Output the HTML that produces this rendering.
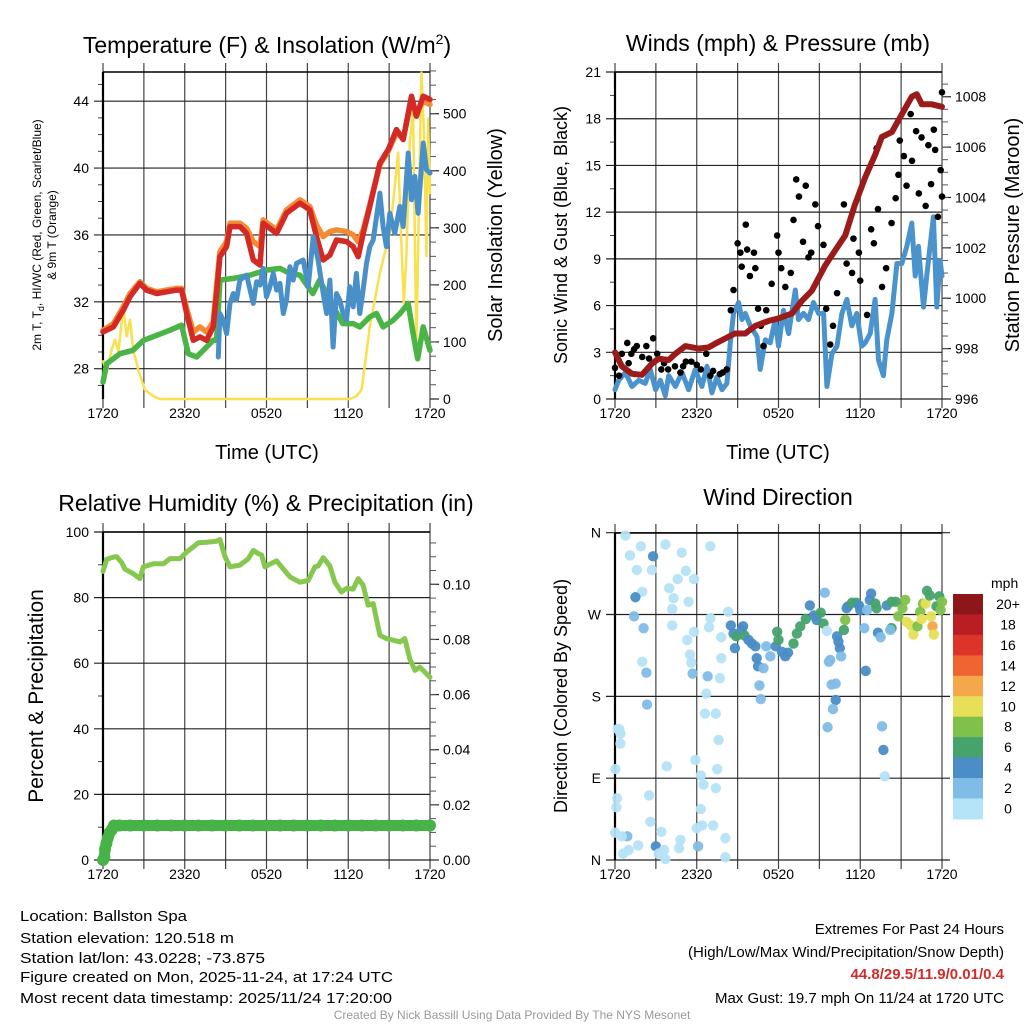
<!DOCTYPE html>
<html><head><meta charset="utf-8"><style>
html,body{margin:0;padding:0;background:#fff;}
svg{display:block;font-family:"Liberation Sans",Arial,sans-serif;}
</style></head><body>
<svg id="chart" width="1024" height="1024" viewBox="0 0 1024 1024" xmlns="http://www.w3.org/2000/svg">
<rect width="1024" height="1024" fill="#fff"/>
<text x="267" y="53" font-size="23" text-anchor="middle">Temperature (F) &amp; Insolation (W/m<tspan font-size="14" dy="-9">2</tspan><tspan dy="9">)</tspan></text>
<text x="778" y="51" font-size="23" text-anchor="middle">Winds (mph) &amp; Pressure (mb)</text>
<text x="266" y="511" font-size="23" text-anchor="middle">Relative Humidity (%) &amp; Precipitation (in)</text>
<text x="778" y="505" font-size="23" text-anchor="middle">Wind Direction</text>

<text transform="translate(41,235) rotate(-90)" font-size="12" text-anchor="middle">2m T, T<tspan font-size="9" dy="3">d</tspan><tspan dy="-3">, HI/WC (Red, Green, Scarlet/Blue)</tspan></text>
<text transform="translate(56,235) rotate(-90)" font-size="12" text-anchor="middle">&amp; 9m T (Orange)</text>
<text transform="translate(502,235) rotate(-90)" font-size="20" text-anchor="middle">Solar Insolation (Yellow)</text>
<text transform="translate(567,235) rotate(-90)" font-size="18" text-anchor="middle">Sonic Wind &amp; Gust (Blue, Black)</text>
<text transform="translate(1019,235) rotate(-90)" font-size="20" text-anchor="middle">Station Pressure (Maroon)</text>
<text transform="translate(43,696) rotate(-90)" font-size="21" text-anchor="middle">Percent &amp; Precipitation</text>
<text transform="translate(567,696) rotate(-90)" font-size="18" text-anchor="middle">Direction (Colored By Speed)</text>
<text x="267" y="459" font-size="20" text-anchor="middle">Time (UTC)</text>
<text x="778" y="459" font-size="20" text-anchor="middle">Time (UTC)</text>

<g font-size="15">
<text x="20" y="921" textLength="167" lengthAdjust="spacingAndGlyphs">Location: Ballston Spa</text>
<text x="20" y="943" textLength="214" lengthAdjust="spacingAndGlyphs">Station elevation: 120.518 m</text>
<text x="20" y="963" textLength="245" lengthAdjust="spacingAndGlyphs">Station lat/lon: 43.0228; -73.875</text>
<text x="20" y="982" textLength="373" lengthAdjust="spacingAndGlyphs">Figure created on Mon, 2025-11-24, at 17:24 UTC</text>
<text x="20" y="1003" textLength="372" lengthAdjust="spacingAndGlyphs">Most recent data timestamp: 2025/11/24 17:20:00</text>
</g>
<g font-size="15" text-anchor="end">
<text x="1004" y="934">Extremes For Past 24 Hours</text>
<text x="1004" y="957">(High/Low/Max Wind/Precipitation/Snow Depth)</text>
<text x="1004" y="979" fill="#d42a2a" font-weight="bold">44.8/29.5/11.9/0.01/0.4</text>
<text x="1004" y="1003">Max Gust: 19.7 mph On 11/24 at 1720 UTC</text>
</g>
<text x="512" y="1019" font-size="12" fill="#999" text-anchor="middle">Created By Nick Bassill Using Data Provided By The NYS Mesonet</text>
</svg>
<script>
// ---------- DATA ----------
const xTickLabels = ["1720","2320","0520","1120","1720"];
const tempTicks = [28,32,36,40,44];
const insolTicks = [0,100,200,300,400,500];
const windTicks = [0,3,6,9,12,15,18,21];
const presTicks = [996,998,1000,1002,1004,1006,1008];
const rhTicks = [0,20,40,60,80,100];
const precipTicks = [0,0.02,0.04,0.06,0.08,0.10];
const precipTickLabels = ["0.00","0.02","0.04","0.06","0.08","0.10"];
const dirTickLabels = ["N","E","S","W","N"];
const dirTicks = [0,90,180,270,360];
const colorbarLabels = ["20+","18","16","14","12","10","8","6","4","2","0"];

const tempHours = [0,0.76,1.49,1.98,2.71,3.2,3.94,4.67,5.4,5.77,6.14,6.63,7.11,7.6,8.09,8.34,8.58,9.07,9.32,10.05,10.54,11.03,11.52,11.76,12.25,12.74,13.47,14.45,15.18,15.67,16.16,16.65,17.14,17.87,18.36,18.73,19.1,19.58,20.32,20.93,21.54,22.03,22.64,23.0,23.5,24];
const tempRed = [30.2,30.5,31.5,32.3,33.1,32.7,32.5,32.6,32.7,32.7,31.3,29.7,29.9,29.7,30.5,32.5,34.7,35.3,36.5,36.5,36.1,34.5,34.2,36.7,36.4,36.1,37.3,37.9,37.5,35.9,34.5,34.8,35.7,35.6,35.3,34.7,36.1,37.7,40.3,41.1,42.3,41.7,44.3,43.1,44.3,44.1];
const temp9m = [30.3,30.7,31.7,32.5,33.2,32.8,32.6,32.7,32.8,32.8,31.6,30.2,30.5,30.2,30.8,33.0,35.0,35.6,36.7,36.7,36.4,35.6,35.3,36.9,36.6,36.3,37.5,38.1,37.7,36.6,35.9,36.2,36.3,36.2,36.0,35.6,36.3,37.8,40.2,41.0,42.1,41.8,44.0,43.3,44.0,43.8];
const dewHours = [0,0.27,1.25,2.2,2.98,3.94,4.92,5.77,6.26,6.87,7.36,8.09,8.34,8.58,9.56,10.8,12.0,13.0,13.7,14.45,15.4,15.9,16.9,17.6,18.36,18.85,19.58,20.07,20.56,21.3,21.8,22.4,22.8,23.1,23.5,24];
const dewpoint = [27.2,28.3,28.9,29.1,29.7,30.0,30.3,30.6,28.9,28.7,29.1,29.7,29.7,33.3,33.4,33.6,33.9,34.0,33.7,33.6,32.5,33.3,31.7,30.7,30.7,30.5,31.1,31.3,30.5,30.9,31.3,31.9,29.9,28.6,30.5,29.1];
const hiwcHours = [8.46,8.58,8.82,9.07,9.32,9.56,9.8,10.05,10.54,11.03,11.27,11.52,11.76,12.0,12.25,12.5,12.74,12.98,13.23,13.47,13.72,13.96,14.2,14.69,15.06,15.43,15.79,16.16,16.41,16.65,16.89,17.14,17.38,17.62,17.87,18.11,18.36,18.6,18.85,19.09,19.34,19.58,19.83,20.32,20.56,20.8,21.05,21.42,21.78,22.03,22.4,22.64,22.89,23.13,23.5,23.74,24];
const hiwc = [28.7,31.3,30.9,30.1,31.9,32.5,32.1,33.3,33.6,31.9,33.2,33.0,34.0,32.3,32.9,33.7,32.7,33.1,31.3,32.1,34.1,33.3,34.3,34.5,32.9,35.9,34.5,32.5,31.3,33.3,29.3,32.5,32.1,31.3,30.9,32.9,31.7,33.7,31.3,32.7,34.3,35.3,35.7,38.5,36.5,35.3,37.3,36.1,37.7,36.5,40.9,38.1,39.5,37.3,41.5,39.9,39.7];
const insolHours = [0,0.27,0.64,0.88,1.13,1.49,1.74,1.98,2.22,2.59,3.08,3.69,4.18,18.11,18.6,18.97,19.21,19.58,20.32,21.05,21.42,21.66,21.91,22.08,22.27,22.52,22.76,23.0,23.2,23.37,23.54,23.74,23.86,24];
const insolation = [66,46,87,104,82,162,110,139,87,51,16,5,0,0,5,16,57,127,221,291,373,432,268,168,250,450,502,92,361,572,479,250,491,361];

const presHours = [0,0.51,1.25,1.98,2.71,3.2,3.94,4.43,5.16,6.14,6.87,7.36,8.09,8.8,9.56,10.3,11.27,12.0,13.0,13.72,14.45,15.43,16.16,16.9,17.6,18.36,19.1,19.58,20.32,21.05,21.78,22.15,22.52,23.25,24];
const pressure = [997.85,997.3,997.0,996.96,997.4,997.6,997.55,997.8,998.1,998.0,998.05,998.2,998.4,998.6,998.6,998.9,999.1,999.2,999.4,999.9,1000.3,1001.3,1001.9,1002.5,1003.7,1004.8,1005.7,1006.4,1006.6,1007.3,1008.0,1008.1,1007.7,1007.7,1007.6];
const windHours = [0,0.27,0.76,1.25,1.74,2.22,2.59,2.98,3.33,3.69,3.94,4.43,4.92,5.4,5.89,6.38,6.75,7.11,7.48,7.85,8.21,8.46,8.7,9.07,9.32,9.56,9.93,10.42,10.66,11.03,11.39,11.76,12.0,12.37,12.74,13.23,13.47,13.84,14.2,14.57,14.94,15.31,15.55,15.92,16.29,16.65,17.02,17.38,17.75,18.11,18.36,18.73,19.09,19.34,19.7,19.95,20.32,20.69,21.05,21.42,21.78,22.03,22.27,22.64,22.89,23.37,23.62,23.86,24];
const windSpeed = [0.6,1.2,1.7,0.8,1.2,1.0,1.9,0.6,1.2,0.2,1.5,0.8,1.7,0.6,1.9,0.8,2.1,0.4,1.4,0.6,1.0,3.6,5.5,6.2,5.1,5.5,4.7,4.0,1.9,3.8,3.6,5.1,3.4,5.7,4.2,7.0,5.1,5.5,5.1,6.2,5.5,5.5,0.8,2.9,3.4,5.5,6.4,4.7,5.5,3.4,3.6,4.2,6.4,2.5,1.5,3.8,5.5,8.7,8.7,9.8,11.3,7.9,9.8,5.9,8.0,11.7,5.9,8.9,7.9];
const gustHours = [0,0.3,0.5,0.9,1.2,1.6,2.0,2.3,2.8,3.1,3.4,3.9,4.4,5.0,5.6,6.3,6.7,7.2,7.7,8.2,8.5,8.7,9.0,9.2,9.3,9.6,9.7,9.9,10.2,10.3,10.5,10.7,10.9,11.1,11.5,11.9,12.0,12.2,12.5,12.9,13.1,13.3,13.5,13.8,14.0,14.2,14.4,14.7,14.9,15.3,15.5,15.8,16.0,16.3,16.8,17.0,17.4,17.5,17.9,18.0,18.5,18.8,19.0,19.2,19.3,19.6,19.9,20.3,20.6,20.8,20.9,21.2,21.4,21.7,21.8,22.1,22.3,22.5,22.8,23.0,23.2,23.4,23.5,23.7,23.9,24.0,24.0,1.0,1.4,2.5,3.6,4.8,5.2,6.0,7.0,7.9];
const gustSpeed = [2.0,1.5,2.9,3.6,2.9,3.4,2.7,3.4,3.9,2.9,1.9,1.9,2.1,2.1,2.4,1.9,2.9,1.8,1.6,1.9,5.7,7.0,10.0,9.4,8.5,11.2,9.6,7.9,9.4,8.4,5.8,4.7,3.4,5.7,7.4,10.5,9.4,8.4,7.2,8.1,11.5,14.1,13.0,10.1,13.7,9.1,9.4,12.5,11.1,9.9,5.8,3.5,4.7,6.8,12.5,8.7,8.1,10.3,9.4,7.6,5.4,10.9,10.0,16.1,12.2,7.2,8.4,11.3,12.9,14.4,16.6,15.6,13.7,18.3,15.3,17.2,13.2,16.8,12.4,16.3,13.8,17.3,16.0,11.7,14.7,19.7,13.0,2.3,3.2,2.6,2.3,1.7,2.4,2.2,1.5,1.7];

const rhHours = [0,0.27,0.64,1.0,1.37,1.61,2.22,2.71,2.96,3.69,4.43,4.92,5.65,6.14,7.0,7.6,8.34,8.58,8.95,9.32,10.05,10.66,11.03,11.39,11.64,11.88,12.25,12.74,13.1,13.72,14.45,15.06,15.55,15.79,16.16,16.65,17.02,17.5,17.87,18.36,18.73,19.09,19.46,19.83,20.32,20.81,21.3,21.78,22.15,22.52,22.89,23.25,23.62,24];
const rh = [88,91.7,92.2,92.5,90.7,88.7,87.3,85.8,89.4,90.3,90.3,91.9,91.9,93.9,96.7,96.9,97.2,97.7,92.6,89.4,89.9,91.8,94.4,93.4,93.0,89.4,90.2,91.2,89.4,86.3,84.7,85.2,89.4,89.6,92.2,89.6,84.7,81.7,82.8,82.6,85.8,83.8,77.7,78.2,68.5,67.5,67.0,66.5,67.5,61.3,57.8,58.8,57.3,55.7];
const precipHours = [0,0.1,0.15,0.25,0.35,0.5,0.65,0.8,1.2,2,3,4,5,6,7,8,9,10,11,12,13,14,15,16,17,18,19,20,21,22,23,24];
const precip = [0,0.001,0.004,0.006,0.008,0.010,0.011,0.0125,0.0125,0.0125,0.0125,0.0125,0.0125,0.0125,0.0125,0.0125,0.0125,0.0125,0.0125,0.0125,0.0125,0.0125,0.0125,0.0125,0.0125,0.0125,0.0125,0.0125,0.0125,0.0125,0.0125,0.0125];

const dirHours = [0.76,1.1,1.9,1.6,2.0,1.5,1.4,2.1,2.0,2.3,2.35,2.8,2.7,3.7,4.9,5.2,4.6,3.98,4.3,4.2,5.4,5.8,7.0,4.2,5.8,5.3,5.5,5.6,5.7,6.8,6.7,7.0,6.9,7.8,8.3,7.8,7.7,6.6,7.4,7.6,5.9,6.3,6.5,7.4,7.5,6.3,6.4,7.2,6.0,8.1,8.1,6.1,4.8,4.7,3.8,3.4,3.0,3.2,3.6,3.7,2.5,2.6,1.7,1.0,0.6,0.9,0.5,0.0,0.15,0.1,0.03,0.3,0.4,0.4,0.2,
8.5,8.7,8.9,9.3,9.5,9.4,9.8,10.05,10.3,8.8,10.4,10.5,10.9,10.6,10.7,11.1,11.4,11.8,11.9,12.0,12.25,12.5,12.7,13.1,13.35,13.6,14.0,14.3,14.6,14.8,15.1,15.3,15.4,15.55,15.7,15.8,15.9,16.2,16.2,16.0,15.6,16.3,16.4,16.5,16.6,16.8,16.9,17.0,17.1,17.4,17.7,17.9,18.0,18.3,18.4,18.5,18.7,18.8,19.1,19.2,19.3,19.5,19.6,19.7,19.8,19.95,20.3,20.3,20.2,20.6,20.8,21.1,21.3,21.4,21.7,21.9,22.2,22.4,22.6,22.9,22.8,23.1,23.2,23.3,23.4,23.6,23.8,24.0,23.9,22.5];
const dirDegrees = [357,335,345,319,295,289,268,255,218,206,171,334,319,347,338,318,309,299,288,276,284,309,345,258,251,242,226,217,205,202,183,266,256,245,273,222,200,161,161,132,110,93,83,79,100,56,38,38,35,24,3,15,22,13,103,31,15,7,11,1,71,42,16,11,7,26,26,30,68,58,100,144,139,128,144,
258,249,246,253,247,257,242,238,235,233,222,213,211,192,177,235,224,235,251,242,229,224,228,238,249,257,265,280,269,264,272,260,294,252,218,220,193,194,176,166,146,246,240,233,224,253,264,277,279,283,283,280,275,255,208,275,286,293,282,277,250,245,147,121,92,280,284,255,253,284,268,277,286,262,258,248,257,273,282,296,282,291,268,257,248,279,290,284,275,265];
const dirSpeeds = [1,1,1,1,1,5,3,3,1,3,3,5,1,1,1,1,1,1,1,1,1,1,1,1,1,1,1,1,3,3,1,1,1,1,1,1,1,1,1,1,1,1,1,1,1,1,1,1,1,1,1,3,1,1,1,1,5,1,1,1,1,1,1,1,1,3,1,1,1,1,1,1,1,1,1,
5,5,7,5,7,5,5,5,5,5,5,5,3,3,3,3,3,5,7,7,5,5,5,7,7,7,7,5,5,5,7,7,3,1,3,3,3,3,5,3,3,5,5,5,3,7,9,5,5,7,7,5,5,3,5,3,5,5,7,7,5,3,3,5,1,5,7,7,3,7,9,9,9,11,11,11,9,9,9,7,11,7,11,13,11,7,7,9,9,11];

// ---------- HELPERS ----------
const NS = "http://www.w3.org/2000/svg";
const svg = document.getElementById('chart');
function el(tag, attrs, parent){ const e=document.createElementNS(NS,tag); for(const k in attrs) e.setAttribute(k,attrs[k]); (parent||svg).appendChild(e); return e; }
const xL = h => 103 + h*13.625;
const xR = h => 615 + h*13.625;
const yTemp = v => 368.7 - (v-28)*16.72;
const yInsol = v => 399 - v*0.5706;
const yWind = v => 399 - v*15.57;
const yPres = v => 399 - (v-996)*25.19;
const yRH = v => 860 - v*3.28;
const yPrecip = v => 860 - v*2757;
const yDir = v => 860 - v*0.9092;
const speedColors = ["#b5e3f7","#7fbce6","#4a8dc7","#46a36c","#7fc14b","#e6df57","#f5a84a","#ef6430","#dc3429","#bb1d25","#8d1619"];
function speedColor(s){ return speedColors[Math.min(10, Math.floor(s/2))]; }

function drawFrame(px, top, bottom, yTicksPix, minorPix, leftLabels, rightTicksPix, rightMinorPix, rightLabels, name){
  const g = el('g',{});
  
  
  for(let i=0;i<=8;i++){
    const x = px + i*327/8;
    const l = el('line',{x1:x,x2:x,y1:top-9,y2:bottom+9,stroke:'#444','stroke-width':1.2},g);
    
    
  }
  yTicksPix.forEach((y,i)=>{
    const l = el('line',{x1:px-9,x2:px+327+(rightTicksPix.length?0:8),y1:y,y2:y,stroke:'#222','stroke-width':1.2},g);
    
    
    const t = el('text',{x:px-14,y:y+5,'font-size':14,'text-anchor':'end'},g);
    t.textContent = leftLabels[i];
    
    
  });
  minorPix.forEach(y=>{ const l=el('line',{x1:px-5,x2:px,y1:y,y2:y,stroke:'#444','stroke-width':1},g);
    
     });
  rightTicksPix.forEach((y,i)=>{
    const l = el('line',{x1:px+327,x2:px+336,y1:y,y2:y,stroke:'#222','stroke-width':1.2},g);
    
    
    const t = el('text',{x:px+340,y:y+5,'font-size':14},g);
    t.textContent = rightLabels[i];
    
    
  });
  rightMinorPix.forEach(y=>{ const l=el('line',{x1:px+327,x2:px+333,y1:y,y2:y,stroke:'#555','stroke-width':1},g);
    
     });
  const ax = el('line',{x1:px,x2:px,y1:top,y2:bottom,stroke:'#000','stroke-width':2.2},g);
  
  
  const tp = el('line',{x1:px,x2:px+327,y1:top,y2:top,stroke:'#000','stroke-width':1.5},g);
  
  
  xTickLabels.forEach((lab,i)=>{
    const t = el('text',{x:px+i*327/4,y:bottom+19,'font-size':14,'text-anchor':'middle'},g);
    t.textContent = lab;
    
    
  });
}
function range(a,b,s){ const r=[]; for(let v=a; v<=b+1e-9; v+=s) r.push(v); return r; }
function pathD(xs, ys, fx, fy){ return xs.map((h,i)=>(i?'L':'M')+fx(h).toFixed(1)+','+fy(ys[i]).toFixed(1)).join(''); }
function line(xs, ys, fx, fy, color, w, name){
  const p = el('path',{d:pathD(xs,ys,fx,fy),fill:'none',stroke:color,'stroke-width':w,'stroke-linejoin':'round','stroke-linecap':'round'});
  
  
  return p;
}

// ---------- PANEL 1 ----------
drawFrame(103,72,399, tempTicks.map(yTemp), range(27,45,1).map(yTemp), tempTicks.map(String),
  insolTicks.map(yInsol), range(25,575,25).map(yInsol), insolTicks.map(String), 'temperature');
line(insolHours, insolation, xL, yInsol, '#f8e04e', 2.5, 'insolation-line');
line(dewHours, dewpoint, xL, yTemp, '#4bb446', 5.5, 'dewpoint-line');
line(tempHours, temp9m, xL, yTemp, '#f58a35', 5.5, 'temp-9m-line');
line(tempHours, tempRed, xL, yTemp, '#d42a26', 5.5, 'temp-2m-line');
line(hiwcHours, hiwc, xL, yTemp, '#4a90c8', 5, 'heat-index-windchill-line');

// ---------- PANEL 2 ----------
drawFrame(615,72,399, windTicks.map(yWind), range(1.5,19.5,3).map(yWind), windTicks.map(String),
  presTicks.map(yPres), range(996.5,1008.5,0.5).map(yPres), presTicks.map(String), 'winds');
line(windHours, windSpeed, xR, yWind, '#4b93cc', 5, 'wind-speed-line');
gustHours.forEach((h,i)=>{
  const c = el('circle',{cx:xR(h),cy:yWind(gustSpeed[i]),r:3.3,fill:'#000'});
  
  
});
line(presHours, pressure, xR, yPres, '#9b1b1b', 6, 'pressure-line');

// ---------- PANEL 3 ----------
drawFrame(103,532,860, rhTicks.map(yRH), range(10,90,20).map(yRH), rhTicks.map(String),
  precipTicks.map(yPrecip), range(0.005,0.115,0.005).map(yPrecip), precipTickLabels, 'humidity');
line(rhHours, rh, xL, yRH, '#86c84e', 5, 'relative-humidity-line');
line(precipHours, precip, xL, yPrecip, '#47b246', 11, 'precipitation-line');
precipHours.forEach((h,i)=>{
  const c = el('circle',{cx:xL(h),cy:yPrecip(precip[i]),r:6,fill:'#47b246'});
  
  
});

// ---------- PANEL 4 ----------
drawFrame(615,533,860, dirTicks.map(yDir), [], dirTickLabels, [], [], [], 'direction');
dirHours.forEach((h,i)=>{
  const c = el('circle',{cx:xR(h),cy:yDir(dirDegrees[i]),r:5.2,fill:speedColor(dirSpeeds[i]),'fill-opacity':0.95});
  
  
});
const mph = el('text',{x:991,y:588,'font-size':14});
mph.textContent = 'mph';


colorbarLabels.forEach((lab,i)=>{
  const y = 594 + i*20.45;
  const r = el('rect',{x:953,y:y,width:30,height:20.9,fill:speedColors[10-i]});
  
  
  const t = el('text',{x:1008,y:y+15,'font-size':14,'text-anchor':'middle'});
  t.textContent = lab;
  
  
});
</script>
</body></html>
